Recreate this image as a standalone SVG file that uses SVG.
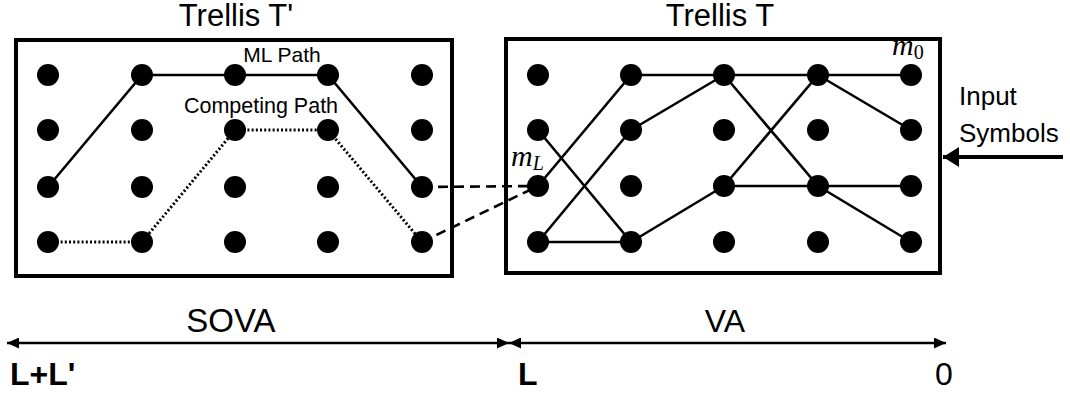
<svg xmlns="http://www.w3.org/2000/svg" width="1070" height="393" viewBox="0 0 1070 393">
  <style>
    .box { fill: #fff; stroke: #000; stroke-width: 4; }
    .dot { fill: #000; }
    .edge { stroke: #000; stroke-width: 2.6; fill: none; }
    .dotted { stroke: #000; stroke-width: 3; stroke-dasharray: 2 2.2; fill: none; }
    .dashed { stroke: #000; stroke-width: 2.6; stroke-dasharray: 10 6; fill: none; }
    .axis { stroke: #000; stroke-width: 2.6; fill: none; }
    .sans { font-family: "Liberation Sans", Arial, sans-serif; fill: #000; }
    .math { font-family: "Liberation Serif", "Times New Roman", serif; font-style: italic; fill: #000; }
  </style>
  <defs>
    <marker id="tip" viewBox="0 0 12 11" refX="12" refY="5.5" markerWidth="12" markerHeight="11" markerUnits="userSpaceOnUse" orient="auto-start-reverse">
      <path d="M0,0 L12,5.5 L0,11 Z" fill="#000"/>
    </marker>
    <marker id="bigtip" viewBox="0 0 16 20" refX="16" refY="10" markerWidth="16" markerHeight="20" markerUnits="userSpaceOnUse" orient="auto">
      <path d="M0,0 L16,10 L0,20 Z" fill="#000"/>
    </marker>
  </defs>

  <!-- titles -->
  <text class="sans" x="236" y="26" font-size="31" text-anchor="middle">Trellis T'</text>
  <text class="sans" x="720" y="26" font-size="31" text-anchor="middle">Trellis T</text>

  <!-- Trellis T' (left) -->
  <g id="trellis-left">
    <rect class="box" x="16" y="40" width="436" height="236"/>
    <g class="dot">
      <circle cx="48" cy="75" r="11"/><circle cx="142" cy="75" r="11"/><circle cx="235" cy="75" r="11"/><circle cx="328" cy="75" r="11"/><circle cx="422" cy="75" r="11"/>
      <circle cx="48" cy="130" r="11"/><circle cx="142" cy="130" r="11"/><circle cx="235" cy="130" r="11"/><circle cx="328" cy="130" r="11"/><circle cx="422" cy="130" r="11"/>
      <circle cx="48" cy="187" r="11"/><circle cx="142" cy="187" r="11"/><circle cx="235" cy="187" r="11"/><circle cx="328" cy="187" r="11"/><circle cx="422" cy="187" r="11"/>
      <circle cx="48" cy="242" r="11"/><circle cx="142" cy="242" r="11"/><circle cx="235" cy="242" r="11"/><circle cx="328" cy="242" r="11"/><circle cx="422" cy="242" r="11"/>
    </g>
    <text class="sans" x="282" y="62" font-size="21" text-anchor="middle">ML Path</text>
    <text class="sans" x="261" y="113" font-size="21.5" text-anchor="middle">Competing Path</text>
  </g>

  <!-- Trellis T (right) -->
  <g id="trellis-right">
    <rect class="box" x="506" y="39" width="434" height="234"/>
    <g class="dot">
      <circle cx="538" cy="75" r="11"/><circle cx="631" cy="75" r="11"/><circle cx="724" cy="75" r="11"/><circle cx="818" cy="75" r="11"/><circle cx="911" cy="75" r="11"/>
      <circle cx="538" cy="130" r="11"/><circle cx="631" cy="130" r="11"/><circle cx="724" cy="130" r="11"/><circle cx="818" cy="130" r="11"/><circle cx="911" cy="130" r="11"/>
      <circle cx="538" cy="186" r="11"/><circle cx="631" cy="186" r="11"/><circle cx="724" cy="186" r="11"/><circle cx="818" cy="186" r="11"/><circle cx="911" cy="186" r="11"/>
      <circle cx="538" cy="242" r="11"/><circle cx="631" cy="242" r="11"/><circle cx="724" cy="242" r="11"/><circle cx="818" cy="242" r="11"/><circle cx="911" cy="242" r="11"/>
    </g>
    <text class="math" x="892" y="55" font-size="30">m<tspan font-size="20" font-style="normal" dy="4">0</tspan></text>
    <text class="math" x="511" y="166" font-size="30">m<tspan font-size="20" dy="4">L</tspan></text>
  </g>

  <!-- Input symbols -->
  <g id="input">
    <text class="sans" font-size="26" x="959" y="105">Input</text>
    <text class="sans" font-size="26" x="959" y="142">Symbols</text>
  </g>

  <!-- connectors -->
  <g id="connectors">
    <polyline class="edge" points="48,187 142,75 235,75 328,75 422,187"/>
    <polyline class="dotted" points="48,242 142,242 235,130 328,130 422,242"/>
    <line class="dashed" x1="422" y1="187" x2="538" y2="186"/>
    <line class="dashed" x1="422" y1="242" x2="538" y2="186"/>
    <line class="edge" x1="631" y1="75" x2="911" y2="75"/>
    <line class="edge" x1="538" y1="186" x2="631" y2="75"/>
    <line class="edge" x1="538" y1="130" x2="631" y2="242"/>
    <line class="edge" x1="538" y1="242" x2="631" y2="130"/>
    <line class="edge" x1="538" y1="242" x2="631" y2="242"/>
    <line class="edge" x1="631" y1="130" x2="724" y2="75"/>
    <line class="edge" x1="631" y1="242" x2="724" y2="186"/>
    <line class="edge" x1="724" y1="75" x2="818" y2="186"/>
    <line class="edge" x1="724" y1="186" x2="818" y2="75"/>
    <line class="edge" x1="724" y1="186" x2="911" y2="186"/>
    <line class="edge" x1="818" y1="75" x2="911" y2="130"/>
    <line class="edge" x1="818" y1="186" x2="911" y2="242"/>
    <line x1="1063" y1="157" x2="943" y2="157" stroke="#000" stroke-width="4" marker-end="url(#bigtip)"/>
    <line class="axis" x1="7" y1="343" x2="509" y2="343" marker-start="url(#tip)" marker-end="url(#tip)"/>
    <line class="axis" x1="509" y1="343" x2="946" y2="343" marker-start="url(#tip)" marker-end="url(#tip)"/>
  </g>

  <!-- axis labels -->
  <g id="axis-labels">
    <text class="sans" x="231" y="332" font-size="33" text-anchor="middle">SOVA</text>
    <text class="sans" x="725" y="332" font-size="32" text-anchor="middle">VA</text>
    <text class="sans" x="10" y="385" font-size="32" font-weight="bold">L+L'</text>
    <text class="sans" x="518" y="385" font-size="32" font-weight="bold">L</text>
    <text class="sans" x="935" y="385" font-size="32">0</text>
  </g>
</svg>
